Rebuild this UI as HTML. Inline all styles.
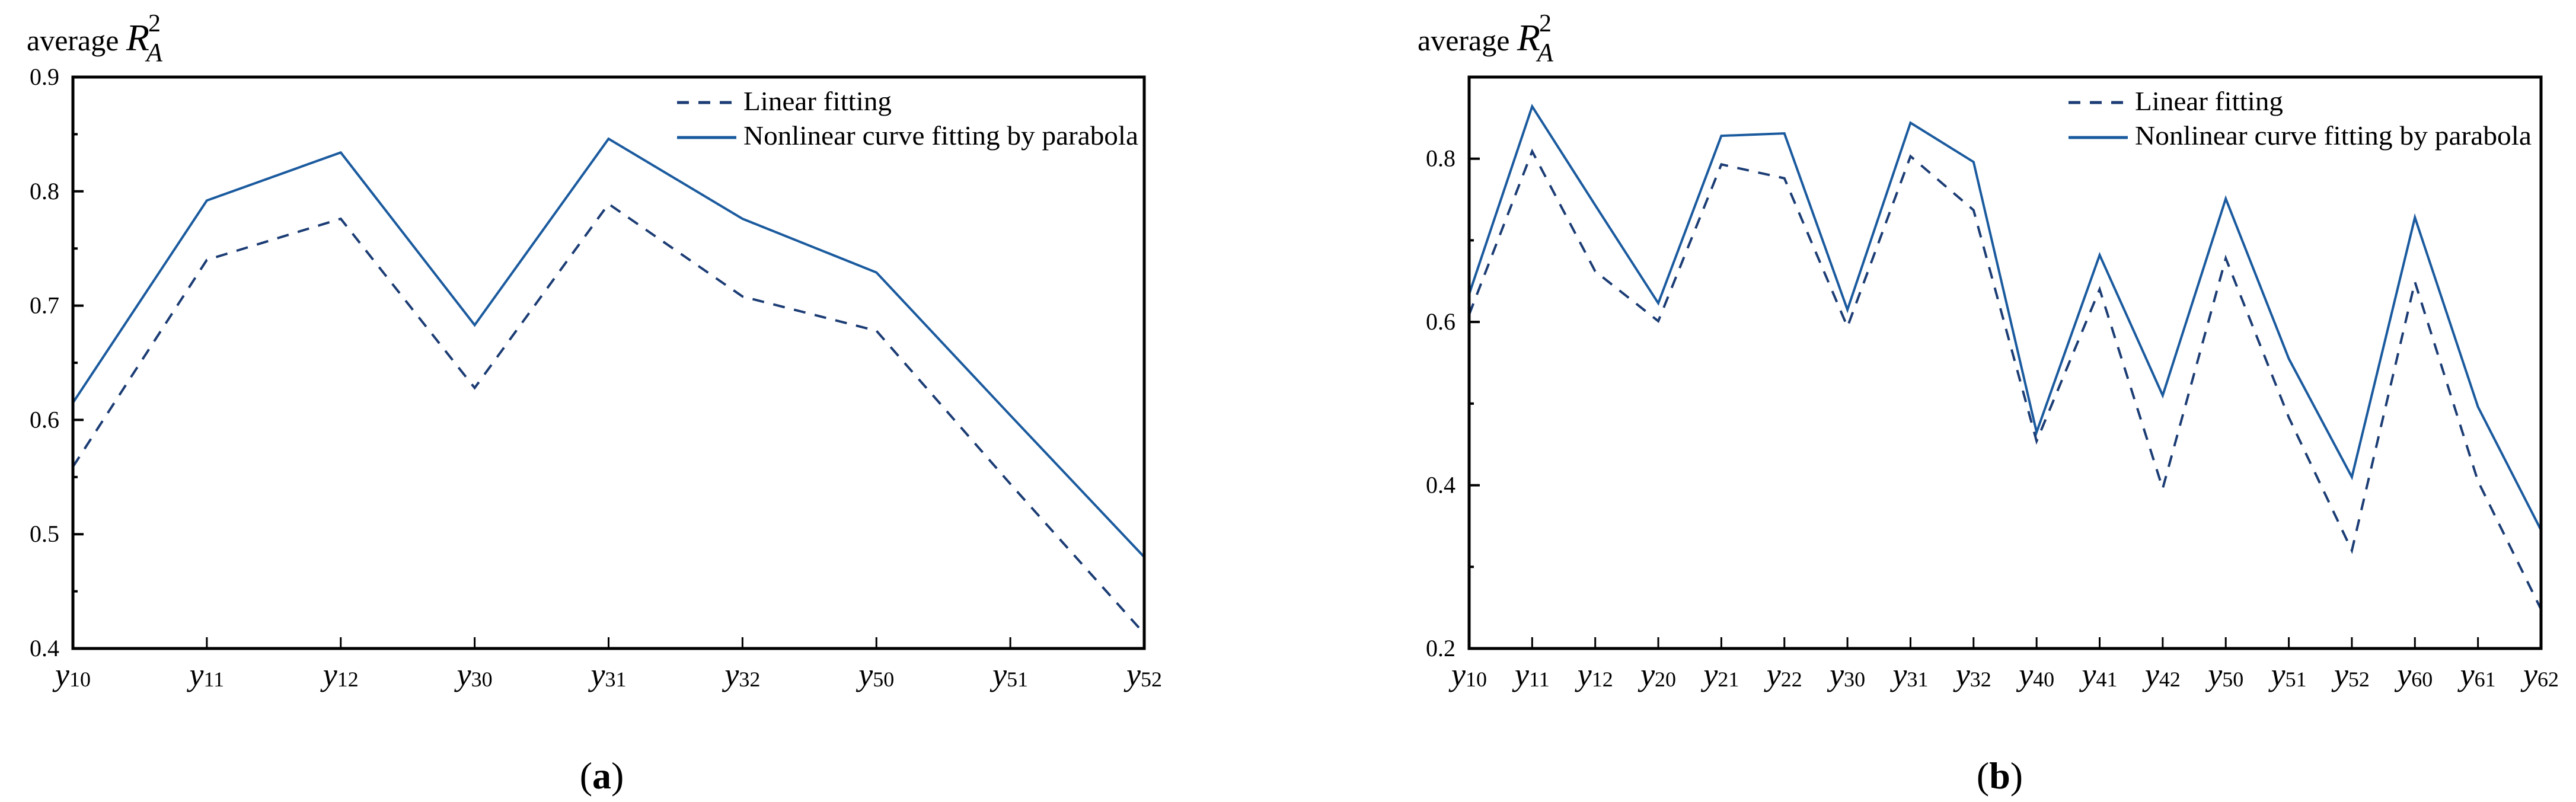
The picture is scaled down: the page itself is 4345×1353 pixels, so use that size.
<!DOCTYPE html>
<html><head><meta charset="utf-8"><style>
html,body{margin:0;padding:0;background:#fff;}
svg{display:block;font-family:"Liberation Serif",serif;}
</style></head><body>
<svg id="svg" width="4345" height="1353" viewBox="0 0 4345 1353" xmlns="http://www.w3.org/2000/svg"></svg>
<script>
const catsA = ["10","11","12","30","31","32","50","51","52"];
const linearA = [0.559,0.740,0.776,0.628,0.789,0.708,0.678,0.544,0.413];
const paraA = [0.615,0.792,0.834,0.683,0.846,0.776,0.729,0.604,0.480];
const ticksA = ["0.4","0.5","0.6","0.7","0.8","0.9"];
const ticksAVal = [0.4,0.5,0.6,0.7,0.8,0.9];

const catsB = ["10","11","12","20","21","22","30","31","32","40","41","42","50","51","52","60","61","62"];
const linearB = [0.609,0.809,0.662,0.601,0.793,0.776,0.594,0.803,0.737,0.454,0.640,0.396,0.678,0.483,0.320,0.649,0.405,0.248];
const paraB = [0.634,0.864,0.743,0.623,0.828,0.831,0.615,0.844,0.796,0.465,0.682,0.510,0.751,0.555,0.410,0.728,0.496,0.345];
const ticksB = ["0.2","0.4","0.6","0.8"];
const ticksBVal = [0.2,0.4,0.6,0.8];
const minorB = [0.3,0.5,0.7];
const minorA = [0.45,0.55,0.65,0.75,0.85];

const NS="http://www.w3.org/2000/svg";
const svg=document.getElementById('svg');
function mk(tag,attrs,parent){const e=document.createElementNS(NS,tag);for(const k in attrs)e.setAttribute(k,attrs[k]);(parent||svg).appendChild(e);return e;}

function panel(id,L,R,T,B,ymin,ymax,cats,lin,para,tlabels,tvals,minors,legX,legEnd,capX,cap,titleX){
  const g=mk('g',{});
  
  
  const xs=i=>L+(R-L)*i/(cats.length-1);
  const ys=v=>B-(B-T)*(v-ymin)/(ymax-ymin);
  const t=mk('text',{x:titleX,y:85,'font-size':50},g);
  
  
  t.innerHTML='average <tspan font-style="italic" font-size="64">R</tspan><tspan font-size="42" dx="-2" dy="-32">2</tspan><tspan font-style="italic" font-size="44" dx="-24" dy="50">A</tspan>';
  const pl=mk('polyline',{points:para.map((v,i)=>xs(i)+','+ys(v)).join(' '),fill:'none',stroke:'#1a5a9e','stroke-width':4},g);
  
  
  const ll=mk('polyline',{points:lin.map((v,i)=>xs(i)+','+ys(v)).join(' '),fill:'none',stroke:'#1b3c74','stroke-width':4,'stroke-dasharray':'20 16'},g);
  
  
  const fr=mk('rect',{x:L,y:T,width:R-L,height:B-T,fill:'none',stroke:'#000','stroke-width':5},g);
  
  
  tvals.forEach((v,i)=>{
    const tk=mk('line',{x1:L,x2:L+18,y1:ys(v),y2:ys(v),stroke:'#000','stroke-width':4},g);
    
    
    const tl=mk('text',{x:L-23,y:ys(v)+13,'font-size':40,'text-anchor':'end'},g);
    
    
    tl.textContent=tlabels[i];
  });
  minors.forEach(v=>{
    const tk=mk('line',{x1:L,x2:L+8,y1:ys(v),y2:ys(v),stroke:'#000','stroke-width':4},g);
    
    
  });
  cats.forEach((c,i)=>{
    const tk=mk('line',{x1:xs(i),x2:xs(i),y1:B,y2:B-19,stroke:'#000','stroke-width':3},g);
    
    
    const tl=mk('text',{x:xs(i),y:1158,'text-anchor':'middle'},g);
    
    
    tl.innerHTML='<tspan font-style="italic" font-size="54" dy="-2">y</tspan><tspan font-size="36" dy="2">'+c+'</tspan>';
  });
  const lg=mk('g',{},g);
  
  
  const l1=mk('line',{x1:legX,x2:legX+100,y1:173,y2:173,stroke:'#1b3c74','stroke-width':5,'stroke-dasharray':'20 16'},lg);
  
  
  const t1=mk('text',{x:legX+112,y:186,'font-size':45,textLength:250,lengthAdjust:'spacingAndGlyphs'},lg);
  
  
  t1.textContent='Linear fitting';
  const l2=mk('line',{x1:legX,x2:legX+100,y1:232,y2:232,stroke:'#1a5a9e','stroke-width':5},lg);
  
  
  const t2=mk('text',{x:legX+112,y:244,'font-size':45,textLength:legEnd-legX-112,lengthAdjust:'spacingAndGlyphs'},lg);
  
  
  t2.textContent='Nonlinear curve fitting by parabola';
  const cp=mk('text',{x:capX,y:1330,'font-size':64,'text-anchor':'middle'},g);
  
  
  cp.innerHTML='(<tspan font-weight="bold">'+cap+'</tspan>)';
}
panel('a',123,1930,130,1094,0.4,0.9,catsA,linearA,paraA,ticksA,ticksAVal,minorA,1142,1920,1015,'a',45);
panel('b',2478,4286,130,1094,0.2,0.9,catsB,linearB,paraB,ticksB,ticksBVal,minorB,3489,4270,3373,'b',2391);
</script>
</body></html>
